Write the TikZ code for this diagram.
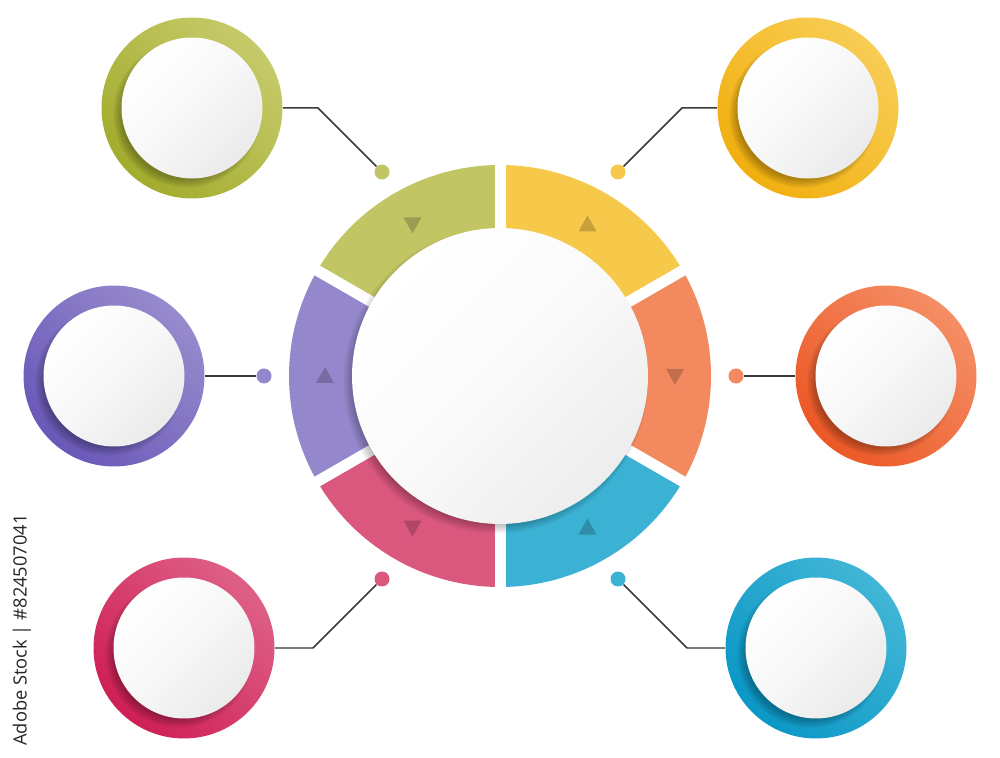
\documentclass[tikz,border=0pt]{standalone}
\usepackage{fontspec}
\newfontfamily\wmfont{Open Sans}
\usetikzlibrary{calc}
\definecolor{cG}{HTML}{C1C563}\definecolor{cGl}{HTML}{C6CA6A}\definecolor{cGd}{HTML}{A2AC2C}
\definecolor{cY}{HTML}{F7C94A}\definecolor{cYl}{HTML}{F8CD55}\definecolor{cYd}{HTML}{F1AF0E}
\definecolor{cO}{HTML}{F38A5F}\definecolor{cOl}{HTML}{F58E65}\definecolor{cOd}{HTML}{EC5826}
\definecolor{cB}{HTML}{3BB1D3}\definecolor{cBl}{HTML}{42B6D6}\definecolor{cBd}{HTML}{0A97C6}
\definecolor{cK}{HTML}{DA587E}\definecolor{cKl}{HTML}{DE6086}\definecolor{cKd}{HTML}{CF1F55}
\definecolor{cP}{HTML}{9587CB}\definecolor{cPl}{HTML}{978ACD}\definecolor{cPd}{HTML}{6A58B8}
\definecolor{lineC}{HTML}{3A3A3A}
\newcommand\mysat[5]{%
  \node[ringsat, top color=#4, bottom color=#5, shading angle=-45] (#1) at (#2,#3) {};
  \foreach \k in {1,...,6} \fill[black, opacity=0.05] (#2-5,#3-6) circle ({64+\k*1.6});
  \node[face] (#1f) at (#2,#3) {};
}
\newcommand\myseg[3]{%
  \fill[#1] (#2:211) arc[start angle=#2, end angle=#3, radius=211] -- (#3:140) arc[start angle=#3, end angle=#2, radius=140] -- cycle;
}
\begin{document}
\begin{tikzpicture}[x=0.02cm, y=0.02cm,
  ringsat/.style={circle, inner sep=0pt, minimum size=3.62cm},
  face/.style={circle, inner sep=0pt, minimum size=2.82cm, top color=white, bottom color=black!8, middle color=white!97!black, shading angle=45},
  bigface/.style={circle, inner sep=0pt, minimum size=5.92cm, top color=white, bottom color=black!7, middle color=white!98!black, shading angle=45},
  dotn/.style={circle, inner sep=0pt, minimum size=0.3cm},
  conn/.style={draw=lineC, line width=0.85pt},
  tri/.style={fill=black, fill opacity=0.2},
  gapline/.style={draw=white, line width=0.22cm}]
\useasboundingbox (0,0) rectangle (1000,757);
\fill[white] (0,0) rectangle (1000,757);

% central ring
\begin{scope}[shift={(500,381)}]
  \myseg{cG}{90}{150}
  \myseg{cP}{150}{210}
  \myseg{cK}{210}{270}
  \myseg{cB}{270}{330}
  \myseg{cO}{330}{390}
  \myseg{cY}{30}{90}
  \foreach \a in {30,90,...,330} \draw[gapline] (0,0) -- (\a:222);
  % triangles
  \fill[tri, shift={(120:175)}] (-9,7) -- (9,7) -- (0,-9) -- cycle;
  \fill[tri, shift={(60:175)}] (-9,-7) -- (9,-7) -- (0,9) -- cycle;
  \fill[tri, shift={(0:175)}] (-9,7) -- (9,7) -- (0,-9) -- cycle;
  \fill[tri, shift={(180:175)}] (-9,-7) -- (9,-7) -- (0,9) -- cycle;
  \fill[tri, shift={(240:175)}] (-9,7) -- (9,7) -- (0,-9) -- cycle;
  \fill[tri, shift={(300:175)}] (-9,-7) -- (9,-7) -- (0,9) -- cycle;
  \foreach \k in {1,...,7} \fill[black, opacity=0.045] (-4,-5) circle ({141+\k*1.6});
\end{scope}
\node[bigface] (c) at (500,381) {};

% satellites
\mysat{sG}{192}{649}{cGl}{cGd}
\mysat{sY}{808}{649}{cYl}{cYd}
\mysat{sP}{114}{381}{cPl}{cPd}
\mysat{sO}{886}{381}{cOl}{cOd}
\mysat{sK}{184}{109}{cKl}{cKd}
\mysat{sB}{816}{109}{cBl}{cBd}

% dots
\node[dotn, fill=cG] (dG) at (382,585) {};
\node[dotn, fill=cY] (dY) at (618,585) {};
\node[dotn, fill=cP] (dP) at (264,381) {};
\node[dotn, fill=cO] (dO) at (736,381) {};
\node[dotn, fill=cK] (dK) at (382,178) {};
\node[dotn, fill=cB] (dB) at (618,178) {};

% bends
\coordinate (bG) at (318,649);
\coordinate (bY) at (682,649);
\coordinate (bK) at (313,109);
\coordinate (bB) at (687,109);

% connectors
\draw[conn] (sG.east) -- (bG) -- (dG);
\draw[conn] (sY.west) -- (bY) -- (dY);
\draw[conn] (sP.east) -- (dP);
\draw[conn] (sO.west) -- (dO);
\draw[conn] (sK.east) -- (bK) -- (dK);
\draw[conn] (sB.west) -- (bB) -- (dB);

% credit line
\node[rotate=90, text=black!85, font=\wmfont\fontsize{10.4}{12}\selectfont, inner sep=0pt] (wm) at (22,127) {Adobe Stock | \#824507041};
\end{tikzpicture}
\end{document}
